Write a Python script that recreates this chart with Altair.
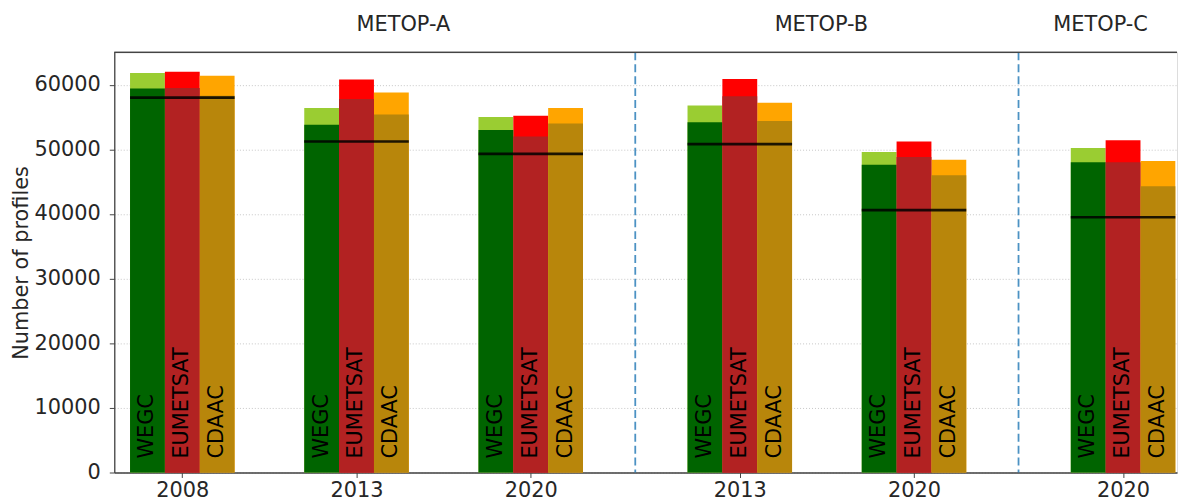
import altair as alt
import pandas as pd

# ---- data ----
years = ["2008", "2013", "2020", "2013", "2020", "2020"]
positions = [0.0, 1.0, 2.0, 3.2, 4.2, 5.4]
centres = ["WEGC", "EUMETSAT", "CDAAC"]
wegc_total = [61800, 56400, 55000, 56800, 49600, 50200]
wegc_base = [59400, 53800, 53000, 54200, 47600, 48000]
eumetsat_total = [62000, 60800, 55200, 60900, 51200, 51400]
eumetsat_base = [59500, 57800, 52000, 58200, 48800, 48000]
cdaac_total = [61400, 58800, 56400, 57200, 48400, 48200]
cdaac_base = [58300, 55400, 54000, 54400, 46000, 44300]
common = [58000, 51200, 49300, 50800, 40600, 39500]
satellites = ["METOP-A", "METOP-B", "METOP-C"]
satellite_pos = [1.0, 3.4, 5.0]
separators = [2.6, 4.8]

totals = {"WEGC": wegc_total, "EUMETSAT": eumetsat_total, "CDAAC": cdaac_total}
bases = {"WEGC": wegc_base, "EUMETSAT": eumetsat_base, "CDAAC": cdaac_base}

W, H = 1070, 423
BW = 0.2
FONT = "DejaVu Sans"
FS = 21

rows = []
for gi, p in enumerate(positions):
    for ci, c in enumerate(centres):
        xc = p + (ci - 1) * BW
        rows.append(dict(x=xc - BW / 2, x2=xc + BW / 2, y=totals[c][gi], part=c + " top",
                         layer="top", centre=c, xc=xc))
        rows.append(dict(x=xc - BW / 2, x2=xc + BW / 2, y=bases[c][gi], part=c + " base",
                         layer="base", centre=c, xc=xc))
bars = pd.DataFrame(rows)

common_df = pd.DataFrame({"x": [p - 1.5 * BW for p in positions],
                          "x2": [p + 1.5 * BW for p in positions],
                          "y": common})
sep_df = pd.DataFrame({"x": separators})
sat_df = pd.DataFrame({"x": satellite_pos, "name": satellites})

xscale = alt.Scale(domain=[-0.3905, 5.7098], nice=False, zero=False)
yscale = alt.Scale(domain=[0, 65000], nice=False)

part_domain = ["WEGC top", "WEGC base", "EUMETSAT top", "EUMETSAT base", "CDAAC top", "CDAAC base"]
part_range = ["#9acd32", "#006400", "#ff0000", "#b22222", "#ffa500", "#b8860b"]
color = alt.Color("part:N", scale=alt.Scale(domain=part_domain, range=part_range), legend=None)

label_expr = " : ".join(
    f"abs(datum.value - {p}) < 0.01 ? '{y}'" for p, y in zip(positions, years)
) + " : ''"

x_axis = alt.Axis(values=positions, labelExpr=label_expr, grid=False, title=None,
                  tickSize=5, labelPadding=2, labelFontSize=FS, domainColor="#444",
                  domainWidth=1.3, tickColor="#444", labelColor="#262626", labelFont=FONT)
y_axis = alt.Axis(values=list(range(0, 60001, 10000)), format="d", grid=True,
                  gridDash=[1, 2], gridColor="#b8b8b8", gridWidth=0.8,
                  title="Number of profiles", titleFontSize=FS, titleFontWeight="normal",
                  titleFont=FONT, titleColor="#262626",
                  titleX=-93, titleY=H / 2, titleAngle=270, titleAlign="center",
                  titleBaseline="middle",
                  tickSize=5, labelPadding=9, labelFontSize=FS, labelFont=FONT,
                  labelColor="#262626", domainColor="#444", domainWidth=1.3, tickColor="#444")


def X(field):
    return alt.X(field, scale=xscale, axis=x_axis)


def Y(field):
    return alt.Y(field, scale=yscale, axis=y_axis)


base_bars = alt.Chart(bars)

top_layer = base_bars.transform_filter(alt.datum.layer == "top").mark_rect().encode(
    x=X("x:Q"), x2="x2:Q", y=Y("y:Q"), y2=alt.datum(0), color=color,
)
base_layer = base_bars.transform_filter(alt.datum.layer == "base").mark_rect().encode(
    x=X("x:Q"), x2="x2:Q", y=Y("y:Q"), y2=alt.datum(0), color=color,
)
text_layer = base_bars.transform_filter(alt.datum.layer == "top").mark_text(
    angle=270, align="left", baseline="middle", fontSize=FS, font=FONT, color="black"
).encode(
    x=X("xc:Q"), y=alt.value(H - 14), text="centre:N",
)
common_layer = alt.Chart(common_df).mark_rule(color="black", strokeWidth=2.6, opacity=0.85).encode(
    x=X("x:Q"), x2="x2:Q", y=Y("y:Q"),
)
sep_layer = alt.Chart(sep_df).mark_rule(color="#1f77b4", strokeWidth=1.8, strokeDash=[8, 4],
                                        opacity=0.8).encode(
    x=X("x:Q"), y=alt.value(0), y2=alt.value(H),
)
top_spine = alt.Chart(sep_df).mark_rule(color="#444", strokeWidth=1.3).encode(
    x=alt.value(0), x2=alt.value(W), y=alt.value(0)
)
sat_layer = alt.Chart(sat_df).mark_text(align="left", baseline="middle", fontSize=FS,
                                        font=FONT, color="#262626").encode(
    x=X("x:Q"), y=alt.value(-28), text="name:N",
)

chart = alt.layer(
    top_layer, base_layer, common_layer, text_layer, sep_layer, top_spine, sat_layer
).properties(
    width=W, height=H,
    autosize=alt.AutoSizeParams(type="none"),
    padding={"left": 107, "top": 43, "right": 4, "bottom": 27},
).configure_view(stroke=None).configure(background="white")

chart.save("out.html", embed_options={"renderer": "svg", "actions": False})
